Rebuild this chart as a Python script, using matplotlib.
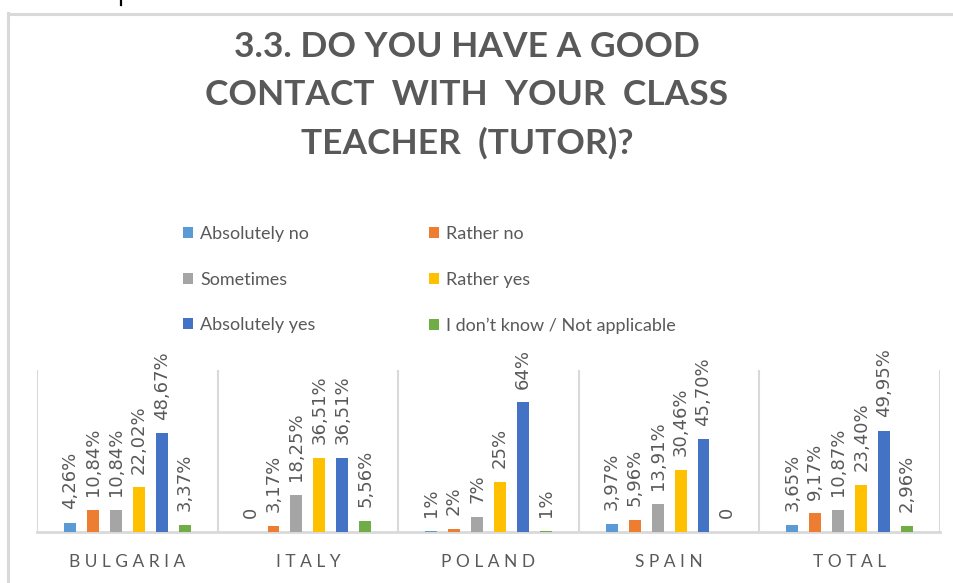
"""
Bar chart: 3.3. Do you have a good contact with your class teacher (tutor)?
"""

import numpy as np
import matplotlib
matplotlib.use("Agg")
import matplotlib.pyplot as plt
from matplotlib.lines import Line2D
from matplotlib.patches import Patch

plt.rcParams['font.family'] = ['Lato', 'DejaVu Sans']

# data (percent)
countries = ['BULGARIA', 'ITALY', 'POLAND', 'SPAIN', 'TOTAL']
answers = ['Absolutely no', 'Rather no', 'Sometimes', 'Rather yes',
           'Absolutely yes', 'I don\u2019t know / Not applicable']
absolutely_no = [4.26, 0.0, 0.6, 3.97, 3.65]
rather_no = [10.84, 3.17, 1.6, 5.96, 9.17]
sometimes = [10.84, 18.25, 7.3, 13.91, 10.87]
rather_yes = [22.02, 36.51, 24.6, 30.46, 23.40]
absolutely_yes = [48.67, 36.51, 64.0, 45.70, 49.95]
dont_know = [3.37, 5.56, 0.6, 0.0, 2.96]
# decimals shown in the data labels for each country
label_decimals = [2, 2, 0, 2, 2]

series = [absolutely_no, rather_no, sometimes, rather_yes, absolutely_yes, dont_know]
colors = ['#5B9BD5', '#ED7D31', '#A5A5A5', '#FFC000', '#4472C4', '#70AD47']
text_col = '#595959'
grid_col = '#D9D9D9'

W, H = 954, 583
fig = plt.figure(figsize=(W / 100, H / 100), dpi=100)

# outer chart frame (only top and left visible)
fig.add_artist(Line2D([8.5 / W, 8.5 / W], [0, 1 - 13 / H], transform=fig.transFigure,
                      color=grid_col, lw=2.2))
fig.add_artist(Line2D([8 / W, 1], [1 - 13.5 / H, 1 - 13.5 / H], transform=fig.transFigure,
                      color=grid_col, lw=2.2))
# leftover stroke of the text above the chart
fig.add_artist(Line2D([121.5 / W, 121.5 / W], [1, 1 - 5 / H], transform=fig.transFigure,
                      color='black', lw=1.6))

# plot area
ax = fig.add_axes([37 / W, (H - 532) / H, 903 / W, 162 / H])
x = np.arange(len(countries))
step = 0.127
width = 0.066
for i, (vals, col) in enumerate(zip(series, colors)):
    pos = x + (i - 2.5) * step
    ax.bar(pos, vals, width=width, color=col, zorder=3)
    for p, v, d in zip(pos, vals, label_decimals):
        if v == 0:
            lab = '0'
        else:
            lab = f'{v:.{d}f}'.replace('.', ',') + '%'
        ax.annotate(lab, (p, v), xytext=(0, 10), textcoords='offset points',
                    rotation=90, ha='center', va='bottom', fontsize=13,
                    family='DejaVu Sans', color=text_col, annotation_clip=False)

ax.set_xlim(-0.5, len(countries) - 0.5)
ax.set_ylim(0, 80)
for sx in np.arange(-0.5, len(countries), 1.0):
    ax.axvline(sx, color=grid_col, lw=1.5, zorder=1)
for s in ['top', 'left', 'right']:
    ax.spines[s].set_visible(False)
ax.spines['bottom'].set_color(grid_col)
ax.spines['bottom'].set_linewidth(2)
ax.set_yticks([])
ax.set_xticks(x)
ax.set_xticklabels([' '.join(c) for c in countries], fontsize=12.5, color=text_col)
ax.tick_params(axis='x', length=0, pad=16)

# title
fig.text(467 / W, 1 - 31 / H,
         '3.3. DO YOU HAVE A GOOD\nCONTACT  WITH  YOUR  CLASS\nTEACHER  (TUTOR)?',
         ha='center', va='top', fontsize=25.5, fontweight='bold', color=text_col,
         linespacing=1.61)

# legend, two columns
handles = [Patch(facecolor=c, edgecolor='none') for c in colors]
order = [0, 2, 4, 1, 3, 5]
fig.legend([handles[k] for k in order], [answers[k] for k in order],
           ncol=2, loc='upper left', bbox_to_anchor=(183 / W, 1 - 226 / H),
           frameon=False, fontsize=13, labelcolor=text_col,
           handlelength=0.55, handleheight=0.55, handletextpad=0.4,
           columnspacing=6.3, labelspacing=1.64, borderpad=0, borderaxespad=0)

plt.savefig('out.png', dpi=100)
